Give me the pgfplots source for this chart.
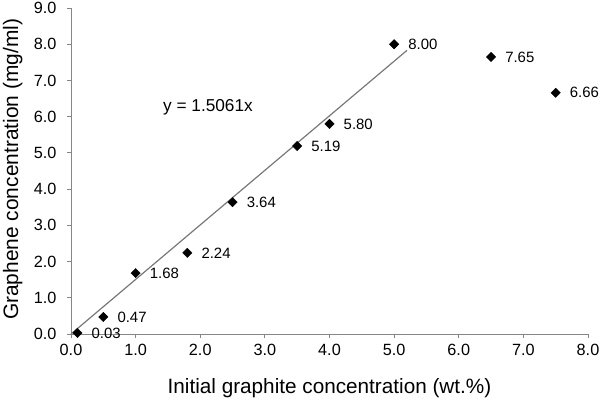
\documentclass[border=0pt]{standalone}
\usepackage{pgfplots}
\pgfplotsset{compat=1.18}
\usepackage{fontspec}
\setmainfont{Liberation Sans}
\definecolor{axgray}{RGB}{134,134,134}
\definecolor{trend}{RGB}{120,120,120}
\begin{document}
\begin{tikzpicture}
\begin{axis}[
  scale only axis, width=517bp, height=326bp,
  xmin=0, xmax=8, ymin=0, ymax=9,
  xtick={0,1,...,8}, ytick={0,1,...,9},
  axis lines=left,
  axis line style={draw=axgray, line width=0.9bp, -},
  tick style={draw=axgray, line width=0.9bp},
  tick align=outside, major tick length=4bp,
  tick label style={font=\fontsize{16.3}{18}\selectfont,
    /pgf/number format/fixed, /pgf/number format/fixed zerofill,
    /pgf/number format/precision=1, /pgf/number format/assume math mode=true},
  x tick label style={yshift=-3bp},
  y tick label style={xshift=-7bp},
  xlabel={Initial graphite concentration (wt.\%)},
  xlabel style={font=\fontsize{20.8}{23}\selectfont, at={(axis description cs:0.5,-0.181)}, anchor=base},
  ylabel={Graphene concentration (mg/ml)},
  ylabel style={font=\fontsize{21}{24}\selectfont, at={(axis description cs:-0.1025,0.505)}, anchor=base, rotate=0},
  clip=false,
]
\coordinate (O) at (rel axis cs:0,0);
\addplot[draw=trend, line width=1.2bp] coordinates {(0,0) (5.2,7.832)};
\addplot[only marks, mark=square*, mark size=3.3bp,
  mark options={rotate=45, fill=black, draw=black},
  nodes near coords, point meta=explicit symbolic,
  nodes near coords style={anchor=west, xshift=14bp, inner sep=0pt,
    font=\fontsize{15}{17}\selectfont, text=black}]
  table[meta=label] {
x y label
0.1 0.03 0.03
0.5 0.47 0.47
1.0 1.68 1.68
1.8 2.24 2.24
2.5 3.64 3.64
3.5 5.19 5.19
4.0 5.80 5.80
5.0 8.00 8.00
6.5 7.65 7.65
7.5 6.66 6.66
};
\node[font=\fontsize{17.3}{20}\selectfont] at (axis cs:2.12,6.27) {y = 1.5061x};
\end{axis}
\pgfresetboundingbox
\path[use as bounding box] ([shift={(-71bp,-67bp)}]O) rectangle ([shift={(529bp,334bp)}]O);
\end{tikzpicture}
\end{document}
